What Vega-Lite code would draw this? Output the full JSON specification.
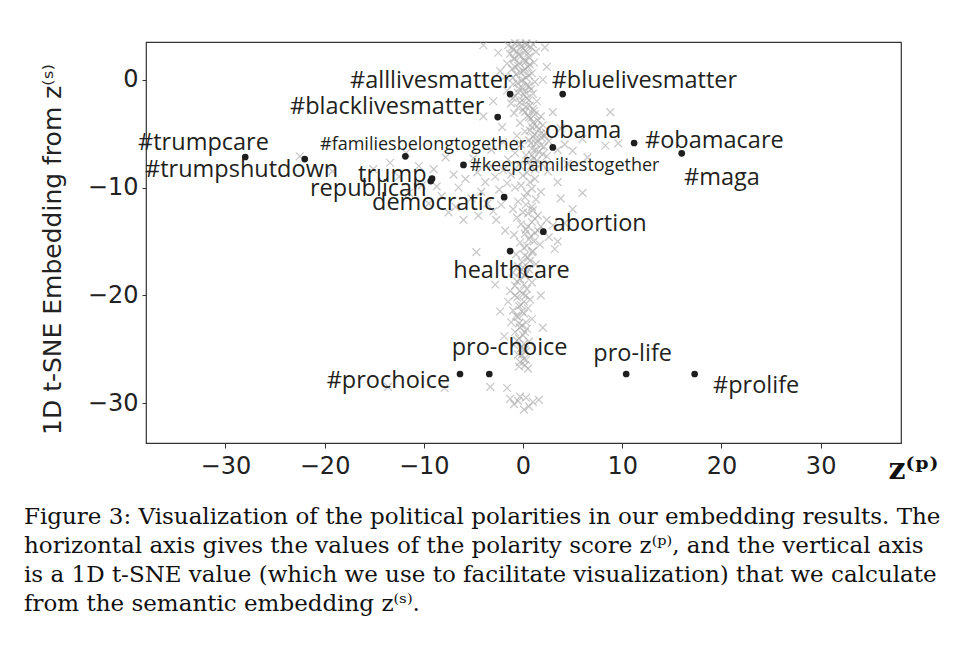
{
  "$schema": "https://vega.github.io/schema/vega-lite/v6.json",
  "width": 755,
  "height": 401,
  "autosize": {"type": "none"},
  "padding": {"left": 146, "top": 42, "right": 53, "bottom": 222},
  "background": "white",
  "config": {
    "view": {"stroke": "#333333", "strokeWidth": 1.2},
    "axis": {"grid": false, "domain": false, "tickColor": "#333333", "tickSize": 5, "labelFont": "DejaVu Sans", "labelFontSize": 24, "labelColor": "#222222"}
  },
  "title": {
    "text": [
      "Figure 3: Visualization of the political polarities in our embedding results. The",
      "horizontal axis gives the values of the polarity score z⁽ᵖ⁾, and the vertical axis",
      "is a 1D t-SNE value (which we use to facilitate visualization) that we calculate",
      "from the semantic embedding z⁽ˢ⁾."
    ],
    "orient": "bottom",
    "anchor": "start",
    "frame": "group",
    "font": "DejaVu Serif",
    "fontSize": 23,
    "fontWeight": "normal",
    "color": "#111111",
    "lineHeight": 29,
    "offset": 22,
    "dx": -122
  },
  "datasets": {
    "words": [
      {"word": "#alllivesmatter", "x": -1.3, "y": -1.33, "lx": -17.44, "ly": -0.77},
      {"word": "#bluelivesmatter", "x": 4.0, "y": -1.33, "lx": 2.89, "ly": -0.77},
      {"word": "#blacklivesmatter", "x": -2.55, "y": -3.46, "lx": -23.49, "ly": -3.15},
      {"word": "#trumpcare", "x": -28.0, "y": -7.17, "lx": -38.8, "ly": -6.49},
      {"word": "#trumpshutdown", "x": -22.0, "y": -7.36, "lx": -38.1, "ly": -9.03},
      {"word": "#familiesbelongtogether", "x": -11.86, "y": -7.11, "lx": -20.46, "ly": -6.49},
      {"word": "trump", "x": -9.17, "y": -9.18, "lx": -16.63, "ly": -9.51},
      {"word": "republican", "x": -9.3, "y": -9.4, "lx": -21.47, "ly": -10.83},
      {"word": "democratic", "x": -1.9, "y": -10.9, "lx": -15.22, "ly": -12.12},
      {"word": "#keepfamiliestogether", "x": -6.0, "y": -7.9, "lx": -5.34, "ly": -8.51},
      {"word": "obama", "x": 3.0, "y": -6.28, "lx": 2.22, "ly": -5.41},
      {"word": "#obamacare", "x": 11.2, "y": -5.87, "lx": 12.3, "ly": -6.34},
      {"word": "#maga", "x": 16.0, "y": -6.83, "lx": 16.23, "ly": -9.74},
      {"word": "abortion", "x": 2.05, "y": -14.1, "lx": 2.99, "ly": -14.07},
      {"word": "healthcare", "x": -1.3, "y": -15.9, "lx": -7.03, "ly": -18.4},
      {"word": "pro-choice", "x": -3.4, "y": -27.3, "lx": -7.19, "ly": -25.51},
      {"word": "pro-life", "x": 10.4, "y": -27.3, "lx": 7.09, "ly": -26.07},
      {"word": "#prochoice", "x": -6.35, "y": -27.3, "lx": -19.79, "ly": -28.6},
      {"word": "#prolife", "x": 17.3, "y": -27.3, "lx": 19.15, "ly": -29.04}
    ],
    "crosses": [
      {"x": -0.8, "y": 3.4}, {"x": 0.3, "y": 3.4}, {"x": 1.0, "y": 3.3}, {"x": -1.5, "y": 3.2}, {"x": -0.2, "y": 3.1},
      {"x": 0.8, "y": 3.0}, {"x": -1.0, "y": 2.8}, {"x": 0.2, "y": 2.7}, {"x": 1.3, "y": 2.6}, {"x": -1.3, "y": 2.4},
      {"x": -0.4, "y": 2.3}, {"x": 0.6, "y": 2.1}, {"x": -0.9, "y": 1.9}, {"x": 0.1, "y": 1.8}, {"x": 1.1, "y": 1.6},
      {"x": -1.6, "y": 1.5}, {"x": -0.5, "y": 1.3}, {"x": 0.5, "y": 1.2}, {"x": -1.1, "y": 1.0}, {"x": 0.0, "y": 0.8},
      {"x": 0.9, "y": 0.6}, {"x": -0.7, "y": 0.5}, {"x": -1.8, "y": 0.3}, {"x": 0.3, "y": 0.2}, {"x": -0.2, "y": -0.1},
      {"x": 1.2, "y": -0.2}, {"x": -1.0, "y": -0.4}, {"x": 0.6, "y": -0.6}, {"x": -0.4, "y": -0.8}, {"x": -1.6, "y": -1.0},
      {"x": 0.2, "y": -1.1}, {"x": 1.0, "y": -1.3}, {"x": -0.8, "y": -1.5}, {"x": 0.4, "y": -1.7}, {"x": -0.1, "y": -1.9},
      {"x": 1.4, "y": -2.0}, {"x": -1.2, "y": -2.2}, {"x": 0.7, "y": -2.4}, {"x": -0.5, "y": -2.6}, {"x": 0.0, "y": -2.8},
      {"x": 1.1, "y": -2.9}, {"x": -0.9, "y": -3.1}, {"x": 0.5, "y": -3.3},
      {"x": -4.0, "y": 3.2}, {"x": -2.5, "y": 2.5}, {"x": 2.2, "y": 3.0}, {"x": 2.4, "y": 1.2}, {"x": -3.0, "y": -2.0},
      {"x": -4.0, "y": -3.4}, {"x": 3.0, "y": -3.0}, {"x": -2.1, "y": -4.4}, {"x": 8.8, "y": -3.0}, {"x": 2.0, "y": 0.0}, {"x": -2.3, "y": 0.8},
      {"x": 0.8, "y": -3.6}, {"x": 1.5, "y": -3.8}, {"x": -0.3, "y": -4.0}, {"x": 2.0, "y": -4.2}, {"x": 0.9, "y": -4.4},
      {"x": 1.6, "y": -4.6}, {"x": 0.2, "y": -4.8}, {"x": 2.3, "y": -4.9}, {"x": 1.2, "y": -5.1}, {"x": -0.6, "y": -5.2},
      {"x": 1.9, "y": -5.4}, {"x": 0.6, "y": -5.6}, {"x": 2.6, "y": -5.7}, {"x": 1.3, "y": -5.9}, {"x": -0.2, "y": -6.0},
      {"x": 2.1, "y": -6.2}, {"x": 0.9, "y": -6.4}, {"x": 3.5, "y": -6.5}, {"x": 1.6, "y": -6.7}, {"x": -0.8, "y": -6.8},
      {"x": 0.3, "y": -7.0}, {"x": 2.4, "y": -7.1}, {"x": 1.1, "y": -7.3}, {"x": -1.5, "y": -7.4}, {"x": 0.6, "y": -7.6},
      {"x": 1.9, "y": -7.8}, {"x": -0.4, "y": -7.9}, {"x": 4.2, "y": -6.0}, {"x": 5.0, "y": -6.6}, {"x": 6.0, "y": -5.5},
      {"x": 8.3, "y": -6.1}, {"x": 9.6, "y": -5.9}, {"x": 3.8, "y": -4.5}, {"x": 6.5, "y": -7.2}, {"x": 4.5, "y": -7.8},
      {"x": -2.0, "y": -5.8}, {"x": -3.2, "y": -6.5},
      {"x": -13.4, "y": -7.7}, {"x": -15.1, "y": -8.3}, {"x": -19.2, "y": -8.5}, {"x": -22.5, "y": -7.1}, {"x": -10.5, "y": -8.0},
      {"x": -9.0, "y": -8.3}, {"x": -8.7, "y": -9.9}, {"x": -7.8, "y": -7.2}, {"x": -7.0, "y": -8.8}, {"x": -6.5, "y": -10.0},
      {"x": -5.8, "y": -9.2}, {"x": -5.0, "y": -7.3}, {"x": -4.6, "y": -8.6}, {"x": -4.2, "y": -10.4}, {"x": -3.8, "y": -9.5},
      {"x": -3.2, "y": -8.0}, {"x": -2.8, "y": -9.0}, {"x": -2.4, "y": -10.2}, {"x": -2.0, "y": -8.4}, {"x": -1.6, "y": -9.6},
      {"x": -1.2, "y": -8.8}, {"x": -0.8, "y": -10.0}, {"x": -3.6, "y": -11.5}, {"x": -5.2, "y": -11.0}, {"x": -6.8, "y": -11.8},
      {"x": -7.5, "y": -12.3}, {"x": -9.5, "y": -11.5}, {"x": -8.2, "y": -10.8}, {"x": -10.2, "y": -9.8}, {"x": -11.5, "y": -10.5},
      {"x": -4.5, "y": -12.6}, {"x": -6.0, "y": -13.0}, {"x": -3.0, "y": -12.2}, {"x": -2.2, "y": -11.6}, {"x": -1.0, "y": -12.0},
      {"x": -11.8, "y": -6.8}, {"x": -12.5, "y": -9.0},
      {"x": 2.5, "y": -8.5}, {"x": 3.5, "y": -9.5}, {"x": 1.2, "y": -9.2}, {"x": 0.4, "y": -8.6}, {"x": 1.8, "y": -10.4},
      {"x": 0.2, "y": -10.9}, {"x": -0.5, "y": -11.3}, {"x": 0.9, "y": -11.8}, {"x": 3.8, "y": -11.0}, {"x": 6.0, "y": -10.5},
      {"x": 0.5, "y": -12.4}, {"x": 1.5, "y": -12.6}, {"x": -0.6, "y": -12.8}, {"x": 2.4, "y": -13.0}, {"x": 0.9, "y": -13.2},
      {"x": -0.2, "y": -13.4}, {"x": 1.8, "y": -13.6}, {"x": 3.0, "y": -13.5}, {"x": 0.3, "y": -13.9}, {"x": 1.2, "y": -14.2},
      {"x": -0.9, "y": -14.4}, {"x": 2.6, "y": -14.6}, {"x": 0.6, "y": -14.8}, {"x": -0.3, "y": -15.1}, {"x": 1.7, "y": -15.3},
      {"x": 0.1, "y": -15.6}, {"x": 3.5, "y": -15.0}, {"x": -1.8, "y": -14.0}, {"x": 1.0, "y": -15.9}, {"x": -0.7, "y": -16.2},
      {"x": 0.5, "y": -16.5}, {"x": -0.1, "y": -16.9}, {"x": 1.3, "y": -17.1}, {"x": -4.7, "y": -16.0}, {"x": 4.2, "y": -13.3},
      {"x": -2.7, "y": -13.0}, {"x": 5.0, "y": -12.0}, {"x": 3.2, "y": -15.7},
      {"x": -0.5, "y": -17.3}, {"x": 0.6, "y": -17.6}, {"x": -1.0, "y": -17.9}, {"x": 0.2, "y": -18.2}, {"x": -0.3, "y": -18.5},
      {"x": 0.9, "y": -18.8}, {"x": -0.8, "y": -19.1}, {"x": 0.4, "y": -19.4}, {"x": -1.3, "y": -19.6}, {"x": 0.0, "y": -19.9},
      {"x": -0.6, "y": -20.2}, {"x": 0.7, "y": -20.4}, {"x": -1.5, "y": -20.6}, {"x": -0.2, "y": -20.9}, {"x": 0.5, "y": -21.2},
      {"x": -1.0, "y": -21.4}, {"x": 0.1, "y": -21.7}, {"x": -0.5, "y": -22.0}, {"x": 0.9, "y": -22.2}, {"x": -1.2, "y": -22.5},
      {"x": -0.1, "y": -22.8}, {"x": 0.4, "y": -23.1}, {"x": -0.8, "y": -23.4}, {"x": 0.0, "y": -23.7}, {"x": -0.4, "y": -24.0},
      {"x": 0.6, "y": -24.3}, {"x": -0.9, "y": -24.6}, {"x": -0.2, "y": -24.9}, {"x": 0.3, "y": -25.2}, {"x": -0.5, "y": -25.5},
      {"x": 0.1, "y": -25.9}, {"x": -0.3, "y": -26.2}, {"x": -2.3, "y": -21.5}, {"x": 2.0, "y": -23.0}, {"x": -2.8, "y": -19.0},
      {"x": 1.8, "y": -20.0}, {"x": -1.9, "y": -23.8},
      {"x": -3.3, "y": -28.5}, {"x": -1.6, "y": -28.6}, {"x": -7.9, "y": -28.6}, {"x": -13.6, "y": -28.5}, {"x": -1.3, "y": -29.6},
      {"x": -0.5, "y": -29.8}, {"x": 0.3, "y": -29.5}, {"x": 1.0, "y": -29.9}, {"x": 1.6, "y": -29.7}, {"x": -0.9, "y": -30.1},
      {"x": 0.6, "y": -30.3}, {"x": 0.1, "y": -30.6}, {"x": -0.3, "y": -29.4}, {"x": 0.2, "y": -26.5}, {"x": 0.5, "y": -26.8},
      {"x": -0.4, "y": -26.6},
      {"x": -0.3, "y": 3.35}, {"x": 0.4, "y": 3.2}, {"x": -1.1, "y": 3.0}, {"x": 0.0, "y": 2.9}, {"x": -0.6, "y": 2.6},
      {"x": 0.5, "y": 2.45}, {"x": -0.2, "y": 2.2}, {"x": -0.9, "y": 2.0}, {"x": 0.3, "y": 1.7}, {"x": -0.4, "y": 1.55},
      {"x": 0.7, "y": 1.4}, {"x": -0.8, "y": 1.2}, {"x": 0.2, "y": 1.0}, {"x": -0.3, "y": 0.7}, {"x": 0.6, "y": 0.4},
      {"x": -1.0, "y": 0.2}, {"x": 0.0, "y": 0.0}, {"x": -0.6, "y": -0.3}, {"x": 0.4, "y": -0.5}, {"x": -0.1, "y": -0.7},
      {"x": 0.8, "y": -0.9}, {"x": -0.5, "y": -1.2}, {"x": 0.1, "y": -1.4}, {"x": -1.0, "y": -1.7}, {"x": 0.6, "y": -1.9},
      {"x": -0.3, "y": -2.1}, {"x": 0.3, "y": -2.5}, {"x": 1.0, "y": -2.7}, {"x": 0.2, "y": -3.0}, {"x": 1.2, "y": -3.2},
      {"x": 0.6, "y": -3.5}, {"x": 1.8, "y": -3.4}, {"x": 1.0, "y": -4.0}, {"x": 1.4, "y": -4.3}, {"x": 0.7, "y": -4.7},
      {"x": 1.8, "y": -5.0}, {"x": 1.0, "y": -5.3}, {"x": 2.2, "y": -5.2}, {"x": 1.5, "y": -5.6}, {"x": 0.8, "y": -5.9},
      {"x": 1.8, "y": -6.1}, {"x": 1.2, "y": -6.5}, {"x": 2.0, "y": -6.9}, {"x": 0.9, "y": -7.0}, {"x": 1.4, "y": -7.5},
      {"x": 0.8, "y": -8.0}, {"x": 1.2, "y": -8.3}, {"x": 0.0, "y": -8.9}, {"x": 0.7, "y": -9.5}, {"x": -0.2, "y": -9.8},
      {"x": 0.9, "y": -10.1}, {"x": 0.4, "y": -10.5}, {"x": 1.3, "y": -11.1}, {"x": 0.3, "y": -11.6}, {"x": 1.0, "y": -12.1},
      {"x": 0.0, "y": -12.3}, {"x": 1.2, "y": -12.9}, {"x": 0.5, "y": -13.6}, {"x": 1.5, "y": -14.0}, {"x": 0.8, "y": -14.5},
      {"x": 0.2, "y": -14.3}, {"x": 1.1, "y": -15.0}, {"x": 0.4, "y": -15.4}, {"x": 0.9, "y": -16.0}, {"x": 0.2, "y": -16.3},
      {"x": 0.7, "y": -16.8}, {"x": 0.0, "y": -17.4}, {"x": -0.3, "y": -17.8}, {"x": 0.3, "y": -18.0}, {"x": -0.6, "y": -18.7},
      {"x": 0.1, "y": -19.0}, {"x": -0.3, "y": -19.6}, {"x": 0.3, "y": -20.0}, {"x": -0.8, "y": -20.0}, {"x": 0.1, "y": -20.6},
      {"x": -0.4, "y": -21.0}, {"x": -0.1, "y": -21.5}, {"x": -0.7, "y": -21.9}, {"x": 0.3, "y": -22.5}, {"x": -0.4, "y": -22.6},
      {"x": 0.2, "y": -23.4}, {"x": -0.3, "y": -23.0}, {"x": -0.6, "y": -24.2}, {"x": 0.1, "y": -24.5}, {"x": -0.1, "y": -25.5},
      {"x": 0.2, "y": -25.0}, {"x": 0.3, "y": -26.0}
    ]
  },
  "encoding": {
    "x": {"type": "quantitative", "scale": {"domain": [-38, 38.1], "nice": false, "zero": false},
      "axis": {"values": [-30, -20, -10, 0, 10, 20, 30], "labelPadding": 6, "title": "z⁽ᵖ⁾", "titleFont": "DejaVu Serif", "titleFontWeight": "bold", "titleFontSize": 30, "titleColor": "#111111", "titleX": 742, "titleY": 35, "titleAlign": "left", "titleBaseline": "alphabetic"}},
    "y": {"type": "quantitative", "scale": {"domain": [-33.7, 3.5], "nice": false, "zero": false},
      "axis": {"values": [0, -10, -20, -30], "labelPadding": 4, "tickSize": 4, "title": "1D t-SNE Embedding from  z⁽ˢ⁾", "titleFont": "DejaVu Sans", "titleFontWeight": "normal", "titleFontSize": 25, "titleColor": "#222222", "titleX": -86, "titleY": 207, "titleAlign": "center", "titleBaseline": "alphabetic", "titleAngle": -90}}
  },
  "layer": [
    {
      "data": {"name": "crosses"},
      "mark": {"type": "point", "shape": "M-1,-1L1,1M-1,1L1,-1", "filled": false, "stroke": "#a8a8a8", "strokeWidth": 1.3, "opacity": 0.6, "size": 60},
      "encoding": {"x": {"field": "x", "type": "quantitative"}, "y": {"field": "y", "type": "quantitative"}}
    },
    {
      "mark": {"type": "rule", "stroke": "#333333", "strokeWidth": 1.2, "strokeDash": [12, 5]},
      "encoding": {"x": {"datum": 0, "type": "quantitative"}, "y": {"datum": 3.5, "type": "quantitative"}, "y2": {"datum": -31.8}}
    },
    {
      "data": {"name": "words"},
      "mark": {"type": "point", "shape": "circle", "filled": true, "fill": "#1e1e1e", "opacity": 1, "size": 45},
      "encoding": {"x": {"field": "x", "type": "quantitative"}, "y": {"field": "y", "type": "quantitative"}}
    },
    {
      "data": {"name": "words"},
      "transform": [{"filter": "datum.word !== '#familiesbelongtogether' && datum.word !== '#keepfamiliestogether'"}],
      "mark": {"type": "text", "font": "Open Sans", "fontSize": 23.5, "align": "left", "baseline": "alphabetic", "color": "#231f20"},
      "encoding": {"x": {"field": "lx", "type": "quantitative"}, "y": {"field": "ly", "type": "quantitative"}, "text": {"field": "word"}}
    },
    {
      "data": {"name": "words"},
      "transform": [{"filter": "datum.word === '#familiesbelongtogether' || datum.word === '#keepfamiliestogether'"}],
      "mark": {"type": "text", "font": "Open Sans", "fontSize": 18, "align": "left", "baseline": "alphabetic", "color": "#231f20"},
      "encoding": {"x": {"field": "lx", "type": "quantitative"}, "y": {"field": "ly", "type": "quantitative"}, "text": {"field": "word"}}
    }
  ]
}
